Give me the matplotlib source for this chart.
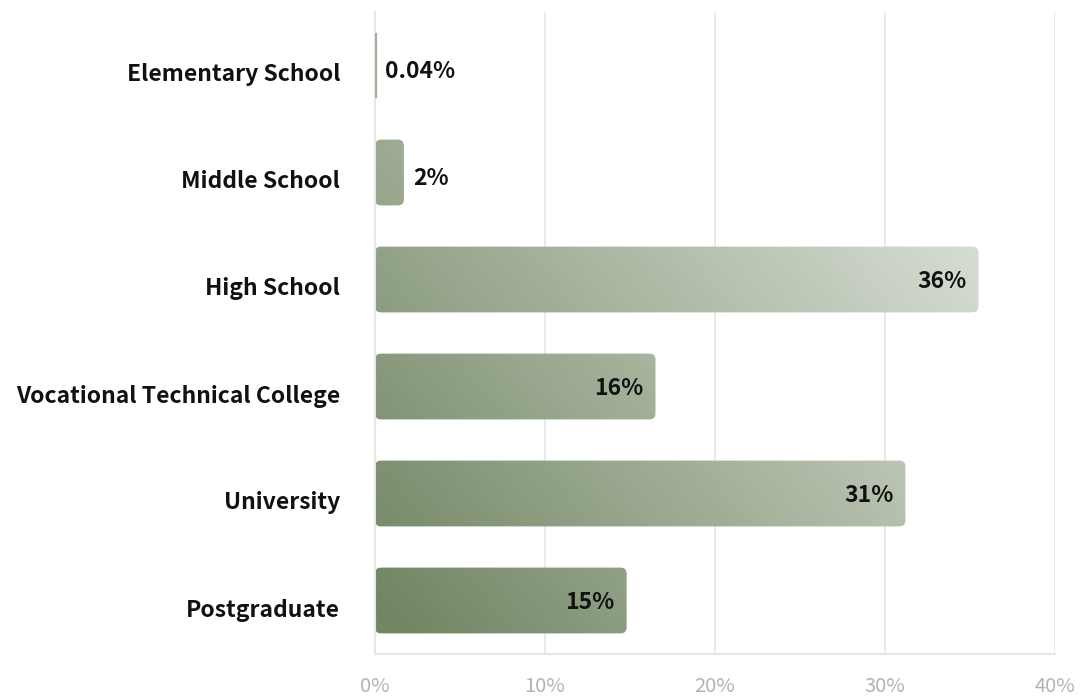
import numpy as np
import matplotlib
matplotlib.use("Agg")
import matplotlib.pyplot as plt
from matplotlib.patches import FancyBboxPatch
from matplotlib.colors import LinearSegmentedColormap

categories = ["Elementary School", "Middle School", "High School",
              "Vocational Technical College", "University", "Postgraduate"]
values = [0.04, 1.7, 35.5, 16.5, 31.2, 14.8]
labels = ["0.04%", "2%", "36%", "16%", "31%", "15%"]
xticks = [0, 10, 20, 30, 40]
xticklabels = ["0%", "10%", "20%", "30%", "40%"]

plt.rcParams['font.family'] = ['Noto Sans CJK SC', 'DejaVu Sans']

W, H = 1083, 696
fig = plt.figure(figsize=(W / 100, H / 100), dpi=100)
ax = fig.add_axes([375 / W, 1 - 654 / H, (1055 - 375) / W, (654 - 12) / H])

ax.set_xlim(0, 40)
ax.set_ylim(5.5, -0.5)

cmap = LinearSegmentedColormap.from_list("g", ["#728663", "#d6ddd3"])
px_x, px_y = 17.0, 107.0
gx = np.linspace(0, 40, 400)
gy = np.linspace(-0.6, 5.6, 200)
GX, GY = np.meshgrid(gx, gy)
T = (GX * px_x + 0.8 * (5 - GY) * px_y) / 886.0
T = np.clip(T, 0, 1)

bar_h = 0.615
rx = 6 / px_x
for i, (v, lab) in enumerate(zip(values, labels)):
    w = max(v, 0.1)
    r = min(rx, w / 2)
    patch = FancyBboxPatch((0, i - bar_h / 2), w, bar_h,
                           boxstyle=f"round,pad=0,rounding_size={r}",
                           mutation_aspect=(px_x / px_y),
                           facecolor="none", edgecolor="none")
    ax.add_patch(patch)
    im = ax.imshow(T, cmap=cmap, vmin=0, vmax=1, extent=(0, 40, -0.6, 5.6),
                   origin="lower", aspect="auto", interpolation="bilinear",
                   zorder=2)
    im.set_clip_path(patch)
    if v < 0.5:
        ax.plot([w / 2, w / 2], [i - bar_h / 2, i + bar_h / 2],
                color="#a3b09a", linewidth=1.6, zorder=3,
                solid_capstyle="butt")
    if v > 5:
        ax.text(v - 0.7, i + 0.02, lab, ha="right", va="center", fontsize=16.5,
                fontweight="bold", color="#111111", zorder=4)
    else:
        ax.text(v + 0.55, i + 0.06, lab, ha="left", va="center", fontsize=16.5,
                fontweight="bold", color="#111111", zorder=4)

ax.set_xlim(0, 40)
ax.set_ylim(5.5, -0.5)
label_shift = 7 / px_y
ax.set_yticks([i + label_shift for i in range(len(categories))])
ax.set_yticklabels(categories, fontsize=16.5, fontweight="bold", color="#111111")
ax.set_xticks(xticks)
ax.set_xticklabels(xticklabels, fontsize=14.5, color="#b3b3b3")
ax.tick_params(axis="y", length=0, pad=25)
ax.tick_params(axis="x", length=0, pad=16)
ax.grid(axis="x", color="#e6e6e6", linewidth=1.2, zorder=0)
ax.grid(axis="y", visible=False)
ax.set_axisbelow(True)
for s in ["top", "right"]:
    ax.spines[s].set_visible(False)
for s in ["left", "bottom"]:
    ax.spines[s].set_color("#e6e6e6")
    ax.spines[s].set_linewidth(1.5)

fig.savefig("out.png", dpi=100)
